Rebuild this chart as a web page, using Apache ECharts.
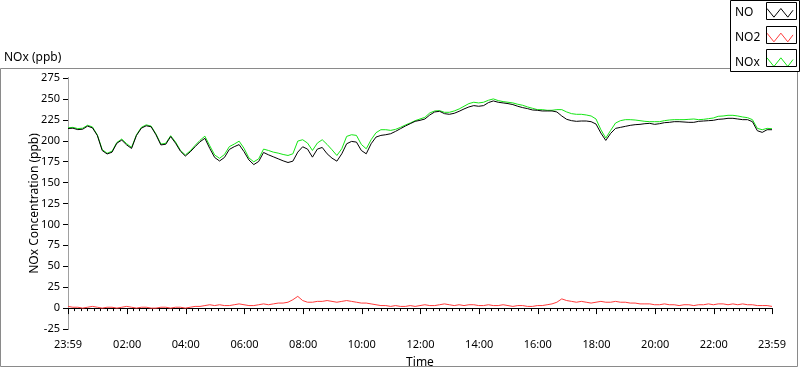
<!DOCTYPE html>
<html><head><meta charset="utf-8">
<script src="https://cdn.jsdelivr.net/npm/echarts@6/dist/echarts.min.js"></script>
<style>html,body{margin:0;padding:0;background:#fff}#c{width:800px;height:369px}</style>
</head><body><div id="c"></div><script>
// Samples every 10 minutes, starting at 23:59 of the previous day
const sampleStepMinutes = 10;
const noValues = [
214.6,215,213.3,213.8,217.5,215.4,206.3,188.3,184.2,186.3,
197.1,200.8,195,190.8,206.3,215,217.9,216.7,207.1,195,
195.8,205,197.1,187.5,181.7,186.7,192.9,198.75,202.9,190.8,
180,175.8,180,189.6,192.9,195.4,187,177.1,171.5,175.2,
186,183.2,180.8,178.4,176,174,175.6,186.4,192.8,190,
180.4,190,192,184.4,179.2,175.6,184.4,196.4,199.2,198.4,
188.4,184.4,196.4,204.4,206.4,207.2,208.4,211.2,214.4,217.6,
220.4,223.2,224.4,226,230.8,234.4,235.2,232.4,231.6,232.8,
235.2,238,240.4,242,241.2,242,245.6,247.6,246,245.2,
244.4,243.2,241.2,239.6,238.4,236.8,236.4,235.6,235.6,235.6,
234.4,229.6,225.6,224,223.2,223.6,223.6,222.8,220,209.2,
200.4,208.8,214.8,216,217.2,218.4,219.2,219.6,220.4,220.8,
219.6,220.4,221.6,222,222.8,222.8,222.4,222,222,223.2,
223.6,224,224.4,225.6,226,226.8,226.8,226,225.2,225.2,
222.8,212,210,213.2,213.2
];
const no2Values = [
2,1,1,0,1,2,1,0,1,1,
0,1,2,1,0,1,1,0,0,1,
1,0,1,1,0,1,2,2,3,4,
3,4,3,3,4,5,4,3,3,4,
5,4,5,6,6,7,10,14,9,7,
7,8,8,9,8,7,8,9,8,7,
6,6,5,4,3,3,2,3,2,2,
3,2,3,4,3,3,4,5,4,3,
4,3,4,4,3,3,4,3,3,4,
3,2,3,3,2,2,3,3,4,5,
7,11,9,8,7,8,7,6,7,8,
7,7,8,7,7,6,6,5,5,5,
4,4,5,4,4,3,4,4,3,4,
4,5,4,5,5,4,5,4,5,4,
4,3,3,3,2
];
const noxValues = [
215.5,216,214.5,215,218.5,216.5,207,189.5,185,187.5,
198,202,196.5,192,207,216,219,217.5,208,196,
197,206,198.5,188.5,183,188,194.5,200.5,205.5,194,
183,179,183.5,193,196,199.5,191,179.5,174.8,178.4,
190,188.4,186.4,185.2,183.6,182.4,184.4,199.6,201.2,197.2,
188.4,197.2,201.2,195.6,189.2,182.4,190.4,205.2,207.2,206.4,
195.6,190.4,201.2,209.6,213.2,213.2,212.4,213.6,216,218.8,
221.2,224,226,228,233.2,235.6,236,234,234,235.6,
238,241.2,244.4,246,245.2,246,248.4,250,248,246.8,
246,245.2,243.6,242.4,240.4,238.8,237.2,237.2,236.4,236.4,
237.2,237.2,234.4,232.4,231.6,231.6,230.8,229.6,226,213.2,
203.2,212.4,221.2,224,225.2,225.2,224.8,224,223.2,222.8,
222.8,222.8,224,224.8,225.2,225.2,225.2,225.6,226,225.2,
225.6,226.4,227.2,229.2,229.6,230.4,230.4,229.6,228.4,227.6,
225.2,214.8,213.2,214.8,214.4
];
// x tick positions (minutes elapsed since 23:59) and their labels
const xTickMinutes = [0,121,241,361,481,601,721,841,961,1081,1201,1321,1440];
const xTickLabels = ['23:59','02:00','04:00','06:00','08:00','10:00','12:00','14:00','16:00','18:00','20:00','22:00','23:59'];
const seriesNames = ['NO','NO2','NOx'];
const seriesColors = ['#000000','#ff3c3c','#14e614'];

const elapsed = noValues.map((_, i) => i * sampleStepMinutes);
const pair = arr => arr.map((v, i) => [elapsed[i], v]);
const labelMap = {};
xTickMinutes.forEach((m, i) => { labelMap[m] = xTickLabels[i]; });

const FONT = 'Noto Sans';
const chart = echarts.init(document.getElementById('c'), null, {renderer: 'canvas'});
const zig = 'path://M0,1 L8,11 L16,1 L24,11 L30,3';
chart.setOption({
  animation: false,
  backgroundColor: '#ffffff',
  title: {text: 'NOx (ppb)', left: 4, top: 52, padding: 0, textStyle: {fontFamily: FONT, fontSize: 12, fontWeight: 'normal', color: '#000'}},
  graphic: [
    {type: 'rect', z: 0, shape: {x: 0.5, y: 68.5, width: 797, height: 298}, style: {fill: 'none', stroke: '#8a8a8a', lineWidth: 1}},
    {type: 'rect', z: 0, shape: {x: 730.5, y: 0.5, width: 69, height: 71}, style: {fill: '#fff', stroke: '#000', lineWidth: 1}},
    {type: 'rect', z: 100, shape: {x: 766.5, y: 2.5, width: 30, height: 17}, style: {fill: 'none', stroke: '#000', lineWidth: 1}},
    {type: 'rect', z: 100, shape: {x: 766.5, y: 26.5, width: 30, height: 17}, style: {fill: 'none', stroke: '#000', lineWidth: 1}},
    {type: 'rect', z: 100, shape: {x: 766.5, y: 49.5, width: 30, height: 17}, style: {fill: 'none', stroke: '#000', lineWidth: 1}}
  ],
  legend: {
    orient: 'vertical', left: 735, top: 6, align: 'right',
    itemWidth: 26, itemHeight: 11, itemGap: 11, padding: 0,
    formatter: '{a|{name}}',
    textStyle: {fontFamily: FONT, fontSize: 12, color: '#000', rich: {a: {width: 27, align: 'left', fontFamily: FONT, fontSize: 12, color: '#000'}}},
    data: seriesNames.map((n, i) => ({name: n, icon: zig, itemStyle: {color: 'none', borderColor: seriesColors[i], borderWidth: 1}}))
  },
  grid: {left: 68, right: 28, top: 78, bottom: 40, containLabel: false, outerBoundsMode: 'none'},
  xAxis: [
    {
      type: 'value', position: 'bottom', min: 0, max: 1440, interval: 120,
      name: 'Time', nameLocation: 'middle', nameGap: 28, nameMoveOverlap: false,
      nameTextStyle: {fontFamily: FONT, fontSize: 12, color: '#000'},
      axisLine: {show: true, lineStyle: {color: '#a0a0a0', width: 1}},
      axisTick: {show: true, customValues: xTickMinutes, length: 6, lineStyle: {color: '#000'}},
      minorTick: {show: true, splitNumber: 9, length: 3, lineStyle: {color: '#000'}},
      axisLabel: {customValues: xTickMinutes, formatter: v => labelMap[v] || '', fontFamily: FONT, fontSize: 11, color: '#000', margin: 10},
      splitLine: {show: false}, minorSplitLine: {show: false}
    },
    {
      type: 'value', position: 'top', min: 0, max: 1440,
      axisLine: {show: true, lineStyle: {color: '#000', width: 1}},
      axisTick: {show: false}, axisLabel: {show: false}, splitLine: {show: false}
    }
  ],
  yAxis: [
    {
      type: 'value', position: 'left', min: -25, max: 275, interval: 25,
      name: 'NOx Concentration (ppb)', nameLocation: 'middle', nameGap: 27, nameRotate: 90, nameMoveOverlap: false,
      nameTextStyle: {fontFamily: FONT, fontSize: 12, color: '#000'},
      axisLine: {show: true, lineStyle: {color: '#000', width: 1}},
      axisTick: {show: true, length: 5, lineStyle: {color: '#000'}},
      axisLabel: {fontFamily: FONT, fontSize: 11, color: '#000', margin: 8},
      splitLine: {show: false}
    },
    {
      type: 'value', position: 'right', min: -25, max: 275, interval: 25,
      axisLine: {show: true, lineStyle: {color: '#a0a0a0', width: 1}},
      axisTick: {show: false}, axisLabel: {show: false}, splitLine: {show: false}
    }
  ],
  series: [
    {name: 'NO', type: 'line', z: 4, data: pair(noValues), showSymbol: false, symbol: 'none', color: seriesColors[0], lineStyle: {width: 1, color: seriesColors[0]}},
    {name: 'NO2', type: 'line', z: 3, data: pair(no2Values), showSymbol: false, symbol: 'none', color: seriesColors[1], lineStyle: {width: 1, color: seriesColors[1]}},
    {name: 'NOx', type: 'line', z: 2, data: pair(noxValues), showSymbol: false, symbol: 'none', color: seriesColors[2], lineStyle: {width: 1, color: seriesColors[2]}}
  ]
});
</script></body></html>
